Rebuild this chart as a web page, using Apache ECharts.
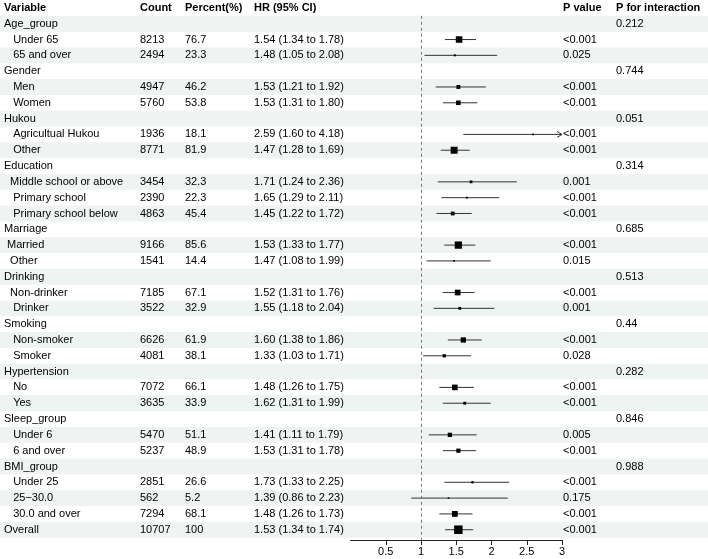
<!DOCTYPE html>
<html><head><meta charset="utf-8">
<script src="https://cdn.jsdelivr.net/npm/echarts@6/dist/echarts.min.js"></script>
<style>html,body{margin:0;padding:0;background:#fff}#c{width:708px;height:559px}</style>
</head><body><div id="c"></div>
<script>
const headers = ["Variable", "Count", "Percent(%)", "HR (95% CI)", "P value", "P for interaction"];
const variables = [
  "Age_group", "   Under 65", "   65 and over",
  "Gender", "   Men", "   Women",
  "Hukou", "   Agricultual Hukou", "   Other",
  "Education", "  Middle school or above", "   Primary school", "   Primary school below",
  "Marriage", " Married", "  Other",
  "Drinking", "  Non-drinker", "   Drinker",
  "Smoking", "   Non-smoker", "   Smoker",
  "Hypertension", "   No", "   Yes",
  "Sleep_group", "   Under 6", "   6 and over",
  "BMI_group", "   Under 25", "   25\u221230.0", "   30.0 and over",
  "Overall"
];
const counts = [
  null, 8213, 2494,
  null, 4947, 5760,
  null, 1936, 8771,
  null, 3454, 2390, 4863,
  null, 9166, 1541,
  null, 7185, 3522,
  null, 6626, 4081,
  null, 7072, 3635,
  null, 5470, 5237,
  null, 2851, 562, 7294,
  10707
];
const percents = [
  null, 76.7, 23.3,
  null, 46.2, 53.8,
  null, 18.1, 81.9,
  null, 32.3, 22.3, 45.4,
  null, 85.6, 14.4,
  null, 67.1, 32.9,
  null, 61.9, 38.1,
  null, 66.1, 33.9,
  null, 51.1, 48.9,
  null, 26.6, 5.2, 68.1,
  100
];
const hr = [
  null, 1.54, 1.48,
  null, 1.53, 1.53,
  null, 2.59, 1.47,
  null, 1.71, 1.65, 1.45,
  null, 1.53, 1.47,
  null, 1.52, 1.55,
  null, 1.60, 1.33,
  null, 1.48, 1.62,
  null, 1.41, 1.53,
  null, 1.73, 1.39, 1.48,
  1.53
];
const lower = [
  null, 1.34, 1.05,
  null, 1.21, 1.31,
  null, 1.60, 1.28,
  null, 1.24, 1.29, 1.22,
  null, 1.33, 1.08,
  null, 1.31, 1.18,
  null, 1.38, 1.03,
  null, 1.26, 1.31,
  null, 1.11, 1.31,
  null, 1.33, 0.86, 1.26,
  1.34
];
const upper = [
  null, 1.78, 2.08,
  null, 1.92, 1.80,
  null, 4.18, 1.69,
  null, 2.36, 2.11, 1.72,
  null, 1.77, 1.99,
  null, 1.76, 2.04,
  null, 1.86, 1.71,
  null, 1.75, 1.99,
  null, 1.79, 1.78,
  null, 2.25, 2.23, 1.73,
  1.74
];
const pValues = [
  "", "<0.001", "0.025",
  "", "<0.001", "<0.001",
  "", "<0.001", "<0.001",
  "", "0.001", "<0.001", "<0.001",
  "", "<0.001", "0.015",
  "", "<0.001", "0.001",
  "", "<0.001", "0.028",
  "", "<0.001", "<0.001",
  "", "0.005", "<0.001",
  "", "<0.001", "0.175", "<0.001",
  "<0.001"
];
const pInteraction = [
  "0.212", "", "",
  "0.744", "", "",
  "0.051", "", "",
  "0.314", "", "", "",
  "0.685", "", "",
  "0.513", "", "",
  "0.44", "", "",
  "0.282", "", "",
  "0.846", "", "",
  "0.988", "", "", "",
  ""
];
const xTicks = [0.5, 1, 1.5, 2, 2.5, 3];
const refValue = 1;

const FONT = '"Liberation Sans", Arial, Helvetica, sans-serif';
const colX = [4, 140, 185, 254, 563, 616];
const AX_MIN = 0, AX_MAX = 3;
const n = variables.length;
const fmt = v => v.toFixed(2);

const cellRows = variables.map((v, i) => [
  v,
  counts[i] == null ? '' : String(counts[i]),
  percents[i] == null ? '' : String(percents[i]),
  hr[i] == null ? '' : `${fmt(hr[i])} (${fmt(lower[i])} to ${fmt(upper[i])})`,
  pValues[i],
  pInteraction[i]
]);

const chart = echarts.init(document.getElementById('c'), null, {renderer: 'canvas'});

const bgData = [];
for (let i = 0; i < n; i += 2) bgData.push([0, i]);
const textData = [[0, -1]];
for (let i = 0; i < n; i++) textData.push([0, i]);
const forestData = [];
for (let i = 0; i < n; i++) if (hr[i] != null) forestData.push([hr[i], i, lower[i], upper[i], percents[i]]);

chart.setOption({
  animation: false,
  grid: {left: 350.5, width: 211.5, top: 0, height: 540},
  xAxis: {
    type: 'value', min: AX_MIN, max: AX_MAX, interval: 0.5,
    axisLine: {show: true, onZero: false, lineStyle: {color: '#222', width: 1}},
    axisTick: {show: true, length: 5, customValues: xTicks, lineStyle: {color: '#222'}},
    axisLabel: {customValues: xTicks, margin: 6, color: '#000', fontSize: 11, fontFamily: FONT,
      formatter: v => String(v)},
    splitLine: {show: false}
  },
  yAxis: {type: 'value', min: -1.5, max: 32.65, inverse: true, show: false},
  series: [
    {
      type: 'custom', z: 0, clip: false, silent: true,
      data: bgData,
      renderItem(params, api) {
        const i = api.value(1);
        const y0 = api.coord([0, i - 0.5])[1];
        const y1 = api.coord([0, i + 0.5])[1];
        return {type: 'rect', shape: {x: 0, y: y0, width: api.getWidth(), height: y1 - y0},
          style: {fill: '#eff3f2'}};
      }
    },
    {
      type: 'custom', z: 3, clip: false, silent: true,
      data: textData,
      renderItem(params, api) {
        const i = api.value(1);
        const y = api.coord([0, i])[1];
        const cells = i < 0 ? headers : cellRows[i];
        return {type: 'group', children: cells.map((t, k) => ({
          type: 'text',
          style: {text: t, x: colX[k], y: y, align: 'left', verticalAlign: 'middle',
            font: (i < 0 ? 'bold ' : '') + '11px ' + FONT, fill: '#000'}
        }))};
      }
    },
    {
      type: 'custom', z: 4, clip: false, silent: true,
      data: forestData,
      renderItem(params, api) {
        const i = api.value(1);
        const c = api.coord([api.value(0), i]);
        const lo = api.value(2), hi = api.value(3), pct = api.value(4);
        const a = api.coord([Math.max(lo, AX_MIN), i]);
        const b = api.coord([Math.min(hi, AX_MAX), i]);
        const y = c[1];
        const s = Math.max(1.6, pct * 0.085);
        const children = [
          {type: 'line', shape: {x1: a[0], y1: y, x2: b[0], y2: y}, style: {stroke: '#333', lineWidth: 1}},
          {type: 'rect', shape: {x: c[0] - s / 2, y: y - s / 2, width: s, height: s}, style: {fill: '#000'}}
        ];
        if (hi > AX_MAX) {
          children.push({type: 'polyline', shape: {points: [[b[0] - 5, y - 3], [b[0], y], [b[0] - 5, y + 3]]},
            style: {stroke: '#333', lineWidth: 1, fill: null}});
        }
        return {type: 'group', children};
      },
      markLine: {
        silent: true, symbol: ['none', 'none'], label: {show: false},
        lineStyle: {type: [3, 3], color: '#777', width: 1},
        data: [[{coord: [refValue, -0.5]}, {coord: [refValue, 32.65]}]]
      }
    }
  ]
});
</script>
</body></html>
